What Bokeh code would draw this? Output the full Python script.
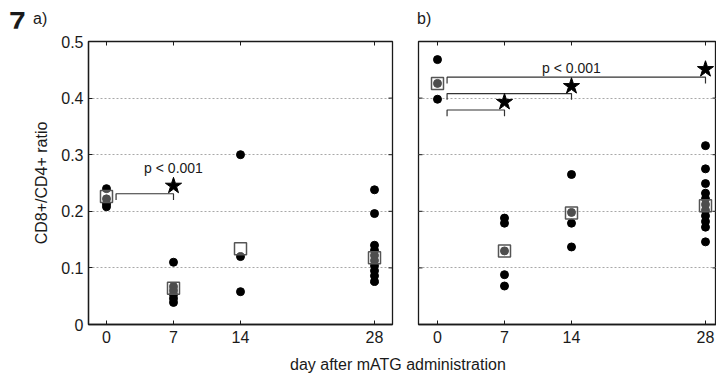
from bokeh.plotting import figure
from bokeh.models import FixedTicker, Range1d, ColumnDataSource, Div
from bokeh.layouts import row, column
from bokeh.core.properties import value
from bokeh.embed import file_html
from bokeh.resources import INLINE

# ---------------- data ----------------
days = [0, 7, 14, 28]
y_ticks = [0, 0.1, 0.2, 0.3, 0.4, 0.5]
y_grid = [0.1, 0.2, 0.3, 0.4]

# panel a) individual ratios per day
a_day0 = [0.240, 0.222, 0.213, 0.208]
a_day7 = [0.110, 0.067, 0.060, 0.053, 0.046, 0.039]
a_day14 = [0.300, 0.120, 0.058]
a_day28 = [0.238, 0.196, 0.140, 0.131, 0.122, 0.113, 0.104, 0.095, 0.086, 0.076]
a_means = [0.226, 0.064, 0.134, 0.118]

# panel b) individual ratios per day
b_day0 = [0.468, 0.426, 0.398]
b_day7 = [0.188, 0.179, 0.130, 0.088, 0.068]
b_day14 = [0.265, 0.198, 0.179, 0.137]
b_day28 = [0.316, 0.275, 0.249, 0.232, 0.222, 0.212, 0.202, 0.192, 0.182, 0.172, 0.146]
b_means = [0.426, 0.130, 0.197, 0.210]

# significance markers
a_star_day = [7]
a_star_y = [0.245]
a_br_start = [1]
a_br_end = [7]
a_br_y = [0.231]
a_p_day = [7]
a_p_y = [0.277]

b_star_day = [7, 14, 28]
b_star_y = [0.393, 0.421, 0.451]
b_br_start = [1, 1, 1]
b_br_end = [7, 14, 28]
b_br_y = [0.379, 0.408, 0.437]
b_p_day = [14]
b_p_y = [0.454]

p_text = "p < 0.001"
fig_number = "7"
panel_a_tag = "a)"
panel_b_tag = "b)"
x_title = "day after mATG administration"
y_title = "CD8+/CD4+ ratio"

FONT = "Liberation Sans"
INK = "#1a1a1a"
CSS_FONT = "font-family:'Liberation Sans',Arial,sans-serif;color:#1a1a1a;white-space:nowrap;"


def flatten(groups):
    xs, ys = [], []
    for d, vals in zip(days, groups):
        xs += [d] * len(vals)
        ys += vals
    return xs, ys


def make_panel(width, x_range, border_left, border_right, groups, means,
               star_day, star_y, br_start, br_end, br_y, p_day, p_y, is_left):
    x0, x1 = x_range
    p = figure(width=width, height=326, x_range=Range1d(x0, x1), y_range=Range1d(0, 0.5),
               min_border_left=border_left, min_border_right=border_right,
               min_border_top=13, min_border_bottom=30,
               output_backend="svg", toolbar_location=None,
               background_fill_color="white", border_fill_color="white")
    p.outline_line_color = INK
    p.outline_line_width = 1.3

    # bottom axis
    p.xaxis.ticker = FixedTicker(ticks=days)
    ax = p.xaxis[0]
    ax.major_tick_in = 4
    ax.major_tick_out = 0
    ax.minor_tick_line_color = None
    ax.axis_line_color = INK
    ax.axis_line_width = 1.3
    ax.major_tick_line_color = INK
    ax.major_label_text_font = FONT
    ax.major_label_text_font_size = "16px"
    ax.major_label_text_color = INK
    ax.major_label_standoff = 6

    # left axis (labelled only on panel a)
    if is_left:
        p.yaxis.ticker = FixedTicker(ticks=y_ticks)
        ay = p.yaxis[0]
        ay.major_tick_in = 4
        ay.major_tick_out = 0
        ay.minor_tick_line_color = None
        ay.axis_line_color = INK
        ay.axis_line_width = 1.3
        ay.major_tick_line_color = INK
        ay.major_label_text_font = FONT
        ay.major_label_text_font_size = "16px"
        ay.major_label_text_color = INK
        ay.major_label_standoff = 5
        ay.major_label_overrides = {0: "0", 0.1: "0.1", 0.2: "0.2", 0.3: "0.3", 0.4: "0.4", 0.5: "0.5"}
        ay.axis_label = y_title
        ay.axis_label_text_font = FONT
        ay.axis_label_text_font_size = "16px"
        ay.axis_label_text_font_style = "normal"
        ay.axis_label_text_color = INK
        ay.axis_label_standoff = 8
    else:
        p.yaxis.visible = False

    # inward tick marks on the unlabelled frame sides
    xpx = (x1 - x0) / (width - border_left - border_right)   # data units per pixel in x
    ypx = 0.5 / 283.0                                           # data units per pixel in y
    tl = 4
    p.segment(x0=days, y0=[0.5] * len(days), x1=days, y1=[0.5 - tl * ypx] * len(days),
              line_color=INK, line_width=1)
    p.segment(x0=[x1] * len(y_grid), y0=y_grid, x1=[x1 - tl * xpx] * len(y_grid), y1=y_grid,
              line_color=INK, line_width=1)
    if not is_left:
        p.segment(x0=[x0] * len(y_grid), y0=y_grid, x1=[x0 + tl * xpx] * len(y_grid), y1=y_grid,
                  line_color=INK, line_width=1)

    # grid
    p.xgrid.visible = False
    p.ygrid.ticker = FixedTicker(ticks=y_grid)
    p.ygrid.grid_line_color = "#a8a8a8"
    p.ygrid.grid_line_dash = "2 2"
    p.ygrid.grid_line_width = 1

    # points
    xs, ys = flatten(groups)
    p.scatter(xs, ys, marker="circle", size=8, fill_color="black", line_color="black")
    p.scatter(days, means, marker="square", size=12, fill_color="white", fill_alpha=0.3,
              line_color="#555555", line_width=1.5)

    # brackets
    tick = 0.011
    bxs = [[s, s, e, e] for s, e in zip(br_start, br_end)]
    bys = [[y - tick, y, y, y - tick] for y in br_y]
    p.multi_line(bxs, bys, line_color="#333333", line_width=1.2)

    # stars
    p.scatter(star_day, star_y, marker="star", size=17, fill_color="black", line_color="black")

    # p value text
    src = ColumnDataSource(dict(x=p_day, y=p_y, t=[p_text] * len(p_day)))
    p.text("x", "y", text="t", source=src, text_font=value(FONT), text_font_size="14px",
           text_align="center", text_baseline="middle", text_color=INK)
    return p


pa = make_panel(405, (-1.88, 29.88), 88, 13, [a_day0, a_day7, a_day14, a_day28], a_means,
                a_star_day, a_star_y, a_br_start, a_br_end, a_br_y, a_p_day, a_p_y, True)
pb = make_panel(311, (-1.985, 29.15), 13, 0, [b_day0, b_day7, b_day14, b_day28], b_means,
                b_star_day, b_star_y, b_br_start, b_br_end, b_br_y, b_p_day, b_p_y, False)

head_a = Div(text=(
    '<div style="position:relative;width:405px;height:28px;">'
    f'<span style="position:absolute;left:9px;top:7px;font-size:30px;line-height:30px;font-weight:bold;{CSS_FONT}">{fig_number}</span>'
    f'<span style="position:absolute;left:33px;top:11px;font-size:16px;line-height:16px;{CSS_FONT}">{panel_a_tag}</span>'
    '</div>'), width=405, height=28, margin=0)
head_b = Div(text=(
    '<div style="position:relative;width:311px;height:28px;">'
    f'<span style="position:absolute;left:12px;top:11px;font-size:16px;line-height:16px;{CSS_FONT}">{panel_b_tag}</span>'
    '</div>'), width=311, height=28, margin=0)

xlabel = Div(text=(f'<div style="margin-left:290px;font-size:16px;line-height:22px;{CSS_FONT}">'
                   f'{x_title}</div>'), width=716, height=24, margin=0)

layout = column(row(head_a, head_b), row(pa, pb), xlabel)
open("out.html", "w").write(file_html(layout, INLINE))
